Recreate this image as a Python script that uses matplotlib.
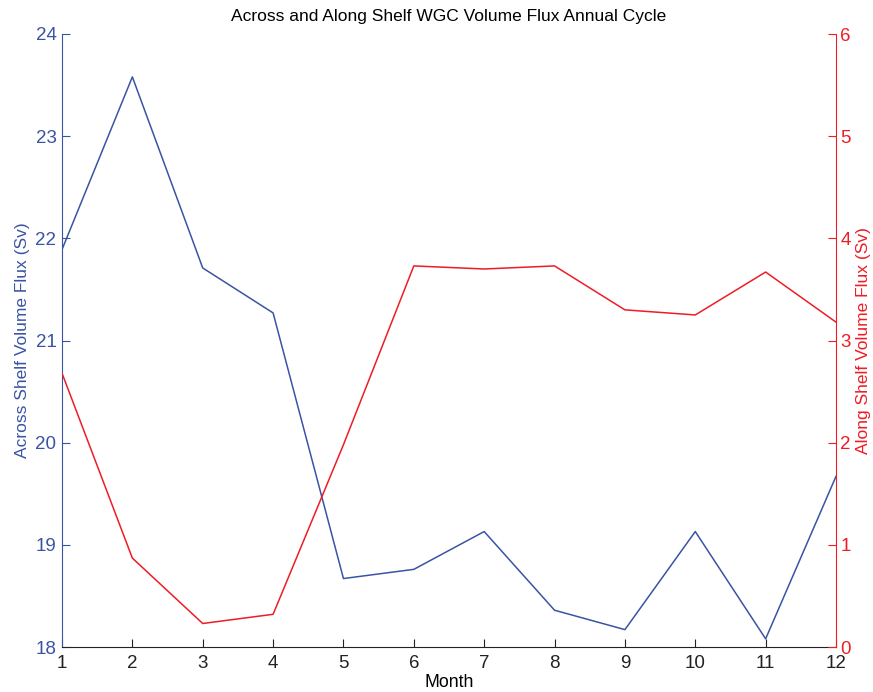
import matplotlib
matplotlib.use("Agg")
import matplotlib.pyplot as plt
import numpy as np

plt.rcParams['font.family'] = ['Liberation Sans', 'DejaVu Sans']

months = np.arange(1, 13)
across = [21.89, 23.58, 21.71, 21.27, 18.67, 18.76, 19.13, 18.36, 18.17, 19.13, 18.08, 19.67]
along = [2.68, 0.87, 0.23, 0.32, 1.98, 3.73, 3.70, 3.73, 3.30, 3.25, 3.67, 3.18]

blue = '#3a54a4'
red = '#ee1c25'

fig = plt.figure(figsize=(8.73, 6.92), dpi=100)
ax = fig.add_axes([62/873, 45/692, (836-62)/873, (647-34)/692])

ax.plot(months, across, color=blue, lw=1.1)
ax.set_xlim(1, 12)
ax.set_ylim(18, 24)
ax.set_xticks(months)
ax.set_yticks(np.arange(18, 25))
ax.set_xlabel('Month', fontsize=12.8, labelpad=1)
ax.set_ylabel('Across Shelf Volume Flux (Sv)', fontsize=12.5, color=blue, labelpad=4)
ax.set_title('Across and Along Shelf WGC Volume Flux Annual Cycle', fontsize=12.5, pad=9)

ax2 = ax.twinx()
ax2.plot(months, along, color=red, lw=1.1)
ax2.set_ylim(0, 6)
ax2.set_yticks(np.arange(0, 7))
ax2.set_ylabel('Along Shelf Volume Flux (Sv)', fontsize=12.5, color=red, rotation=90, labelpad=4)

for a in (ax, ax2):
    a.spines['top'].set_visible(False)
ax.spines['right'].set_visible(False)
ax2.spines['left'].set_visible(False)
ax2.spines['bottom'].set_visible(False)
ax.spines['left'].set_color(blue)
ax.spines['bottom'].set_color('#222222')
ax2.spines['right'].set_color(red)

ax.tick_params(axis='x', direction='in', length=6, colors='#222222', labelsize=13.5, pad=6)
ax.tick_params(axis='y', direction='in', length=6, colors=blue, labelsize=13.5, pad=4)
ax2.tick_params(axis='y', direction='in', length=6, colors=red, labelsize=13.5, pad=3)

fig.savefig('out.png', dpi=100)
